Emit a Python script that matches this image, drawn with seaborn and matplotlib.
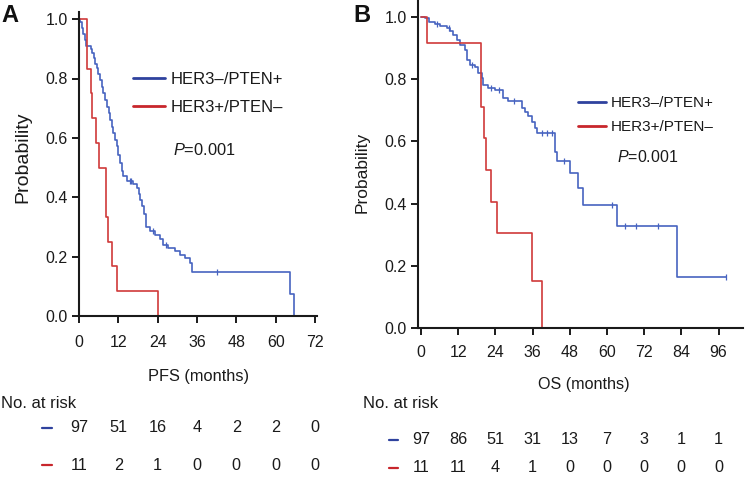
import matplotlib
matplotlib.use("Agg")
import matplotlib.pyplot as plt
import matplotlib.transforms as mtransforms
from matplotlib.lines import Line2D
import seaborn as sns

# ---------------- data ----------------
groups = ["HER3\u2013/PTEN+", "HER3+/PTEN\u2013"]

# Panel A: PFS Kaplan-Meier steps (time in months, survival after step)
pfs_blue_t = [0, 0.3, 0.8, 1.3, 1.8, 2.2, 3.6, 4.0, 4.5, 5.0, 5.4, 5.9, 6.4, 6.9, 7.4, 7.9,
              8.5, 9.0, 9.5, 10.0, 10.5, 11.0, 11.5, 12.0, 12.5, 13.0, 13.5, 14.5, 16.6,
              17.6, 18.2, 18.7, 19.1, 19.8, 20.4, 21.7, 23.2, 24.7, 25.7, 27.3, 29.3, 30.8,
              32.4, 33.9, 34.4, 64.4, 65.6]
pfs_blue_s = [1.0, 0.99, 0.97, 0.95, 0.93, 0.91, 0.90, 0.885, 0.87, 0.85, 0.834, 0.815,
              0.795, 0.773, 0.75, 0.728, 0.705, 0.683, 0.66, 0.638, 0.616, 0.594, 0.571,
              0.543, 0.514, 0.49, 0.47, 0.455, 0.445, 0.43, 0.41, 0.39, 0.37, 0.345, 0.30,
              0.285, 0.273, 0.26, 0.24, 0.228, 0.22, 0.205, 0.194, 0.177, 0.147, 0.074, 0.0]
pfs_red_t = [0, 2.5, 3.6, 4.1, 5.1, 6.1, 8.2, 8.9, 10.0, 11.7, 24.2]
pfs_red_s = [1.0, 0.833, 0.75, 0.667, 0.583, 0.5, 0.333, 0.25, 0.167, 0.083, 0.0]
pfs_blue_cens_t = [15.5, 16.0, 22.5, 26.5, 42.0]
pfs_blue_cens_s = [0.455, 0.455, 0.285, 0.24, 0.147]

# Panel B: OS Kaplan-Meier steps
os_blue_t = [0, 1.3, 2.4, 4.5, 6.1, 8.3, 9.4, 10.4, 11.5, 12.6, 14.2, 14.7, 15.8, 17.4,
             18.5, 19.6, 20.1, 21.7, 23.9, 26.5, 28.2, 32.5, 33.5, 34.6, 35.7, 36.8, 37.3,
             43.2, 43.8, 48.1, 50.7, 52.4, 63.1, 82.7, 98.4]
os_blue_s = [1.0, 0.995, 0.984, 0.976, 0.970, 0.962, 0.952, 0.941, 0.925, 0.909, 0.893,
             0.861, 0.845, 0.839, 0.818, 0.802, 0.781, 0.770, 0.765, 0.738, 0.730, 0.706,
             0.695, 0.680, 0.663, 0.642, 0.626, 0.567, 0.535, 0.497, 0.449, 0.396, 0.328,
             0.164, 0.164]
os_red_t = [0, 2.0, 19.3, 20.3, 20.9, 22.6, 24.6, 35.7, 38.9]
os_red_s = [1.0, 0.916, 0.711, 0.61, 0.508, 0.406, 0.305, 0.152, 0.0]
os_blue_cens_t = [5.0, 9.0, 16.5, 22.5, 25.0, 30.0, 38.9, 40.5, 42.2, 46.0, 61.7, 65.8, 69.4, 76.4, 98.4]
os_blue_cens_s = [0.976, 0.962, 0.845, 0.770, 0.765, 0.730, 0.626, 0.626, 0.626, 0.535, 0.396, 0.328, 0.328, 0.328, 0.164]

pfs_ticks = [0, 12, 24, 36, 48, 60, 72]
os_ticks = [0, 12, 24, 36, 48, 60, 72, 84, 96]
y_ticks = [0.0, 0.2, 0.4, 0.6, 0.8, 1.0]
pfs_risk_blue = [97, 51, 16, 4, 2, 2, 0]
pfs_risk_red = [11, 2, 1, 0, 0, 0, 0]
os_risk_blue = [97, 86, 51, 31, 13, 7, 3, 1, 1]
os_risk_red = [11, 11, 4, 1, 0, 0, 0, 0, 0]

BLUE = "#4763c0"
RED = "#d03a3a"
BLUE_LEG = "#2f429e"
RED_LEG = "#c8262c"
INK = "#1a1a1a"

# ---------------- style ----------------
sns.set_theme(style="ticks")
plt.rcParams["font.family"] = ["Liberation Sans", "DejaVu Sans"]
plt.rcParams["mathtext.fontset"] = "custom"
plt.rcParams["mathtext.it"] = "Liberation Sans:italic"
plt.rcParams["mathtext.rm"] = "Liberation Sans"

W, H = 750, 478
fig = plt.figure(figsize=(W / 100, H / 100), dpi=100)


def px_axes(left, right, bottom, top):
    return fig.add_axes([left / W, 1 - bottom / H, (right - left) / W, (bottom - top) / H])


axA = px_axes(79, 317, 316, 12)
axB = px_axes(418, 743, 328.3, 0)


def style_axis(ax, xpad):
    for s in ["top", "right"]:
        ax.spines[s].set_visible(False)
    for s in ["left", "bottom"]:
        ax.spines[s].set_linewidth(1.5)
        ax.spines[s].set_color(INK)
    ax.tick_params(direction="out", length=5, width=1.4, colors=INK, labelsize=11.5)
    ax.tick_params(axis="y", pad=3)
    ax.tick_params(axis="x", pad=xpad)
    ax.set_yticks(y_ticks)
    ax.set_yticklabels([f"{v:.1f}" for v in y_ticks])


def km(ax, t, s, color, label):
    sns.lineplot(x=t, y=s, ax=ax, color=color, lw=1.2, drawstyle="steps-post",
                 estimator=None, sort=False, label=label)


# Panel A
km(axA, pfs_blue_t, pfs_blue_s, BLUE, groups[0])
km(axA, pfs_red_t, pfs_red_s, RED, groups[1])
sns.scatterplot(x=pfs_blue_cens_t, y=pfs_blue_cens_s, ax=axA, marker="|", s=18,
                color=BLUE, linewidth=0.9, legend=False)
axA.set_xlim(0, 72.6)
axA.set_ylim(0, 1.024)
axA.set_xticks(pfs_ticks)
style_axis(axA, 8.5)
axA.set_ylabel("")
axA.set_xlabel("")

# Panel B
km(axB, os_blue_t, os_blue_s, BLUE, groups[0])
km(axB, os_red_t, os_red_s, RED, groups[1])
sns.scatterplot(x=os_blue_cens_t, y=os_blue_cens_s, ax=axB, marker="|", s=18,
                color=BLUE, linewidth=0.9, legend=False)
axB.set_xlim(-1, 103.9)
axB.set_ylim(0, 1.053)
axB.set_xticks(os_ticks)
style_axis(axB, 7)
axB.set_ylabel("")
axB.set_xlabel("")

# Legends
legA = axA.legend(loc="center left", bbox_to_anchor=((133 - 79) / 238, (316 - 93.5) / 304),
                  frameon=False, fontsize=12, handlelength=1.9, handletextpad=0.35,
                  labelspacing=0.78, borderpad=0, borderaxespad=0)
legB = axB.legend(loc="center left", bbox_to_anchor=((578 - 418) / 325, (328.3 - 115) / 328.3),
                  frameon=False, fontsize=11, handlelength=1.85, handletextpad=0.3,
                  labelspacing=0.65, borderpad=0, borderaxespad=0)
for leg in (legA, legB):
    for ln, c in zip(leg.get_lines(), [BLUE_LEG, RED_LEG]):
        ln.set_linewidth(2.0)
        ln.set_color(c)
    for tx in leg.get_texts():
        tx.set_color(INK)


def fy(py):
    return 1 - py / H


def fx(px):
    return px / W


# P values
fig.text(fx(173), fy(150), "$P$=0.001", fontsize=11.8, ha="left", va="center", color=INK)
fig.text(fx(617), fy(157), "$P$=0.001", fontsize=11.5, ha="left", va="center", color=INK)

# Panel letters
fig.text(fx(1), fy(16), "A", fontsize=17, fontweight="bold", ha="left", va="center", color="#111111")
fig.text(fx(353), fy(16), "B", fontsize=17, fontweight="bold", ha="left", va="center", color="#111111")

# y labels
fig.text(fx(23), fy(157), "Probability", fontsize=14, rotation=90, ha="center", va="center", color=INK)
fig.text(fx(362), fy(172), "Probability", fontsize=12.5, rotation=90, ha="center", va="center", color=INK)

# x labels
fig.text(fx(198), fy(377), "PFS (months)", fontsize=11.8, ha="center", va="center", color=INK)
fig.text(fx(584), fy(385), "OS (months)", fontsize=11.6, ha="center", va="center", color=INK)

# Risk tables
fig.text(fx(1), fy(403), "No. at risk", fontsize=12, ha="left", va="center", color=INK)
fig.text(fx(363), fy(403), "No. at risk", fontsize=12, ha="left", va="center", color=INK)


def risk_row(ax, ticks, values, py):
    tr = mtransforms.blended_transform_factory(ax.transData, fig.transFigure)
    for t, v in zip(ticks, values):
        ax.text(t, fy(py), str(v), transform=tr, ha="center", va="center",
                fontsize=11.7, color=INK, clip_on=False)


risk_row(axA, pfs_ticks, pfs_risk_blue, 428)
risk_row(axA, pfs_ticks, pfs_risk_red, 465)
risk_row(axB, os_ticks, os_risk_blue, 440)
risk_row(axB, os_ticks, os_risk_red, 468)

for (x0, x1, py, c) in [(42, 52, 428, BLUE_LEG), (42, 52, 465, RED_LEG),
                        (389, 398, 440, BLUE_LEG), (389, 398, 468, RED_LEG)]:
    fig.add_artist(Line2D([fx(x0), fx(x1)], [fy(py), fy(py)], color=c, lw=1.6,
                          transform=fig.transFigure))

fig.savefig("out.png", dpi=100)
